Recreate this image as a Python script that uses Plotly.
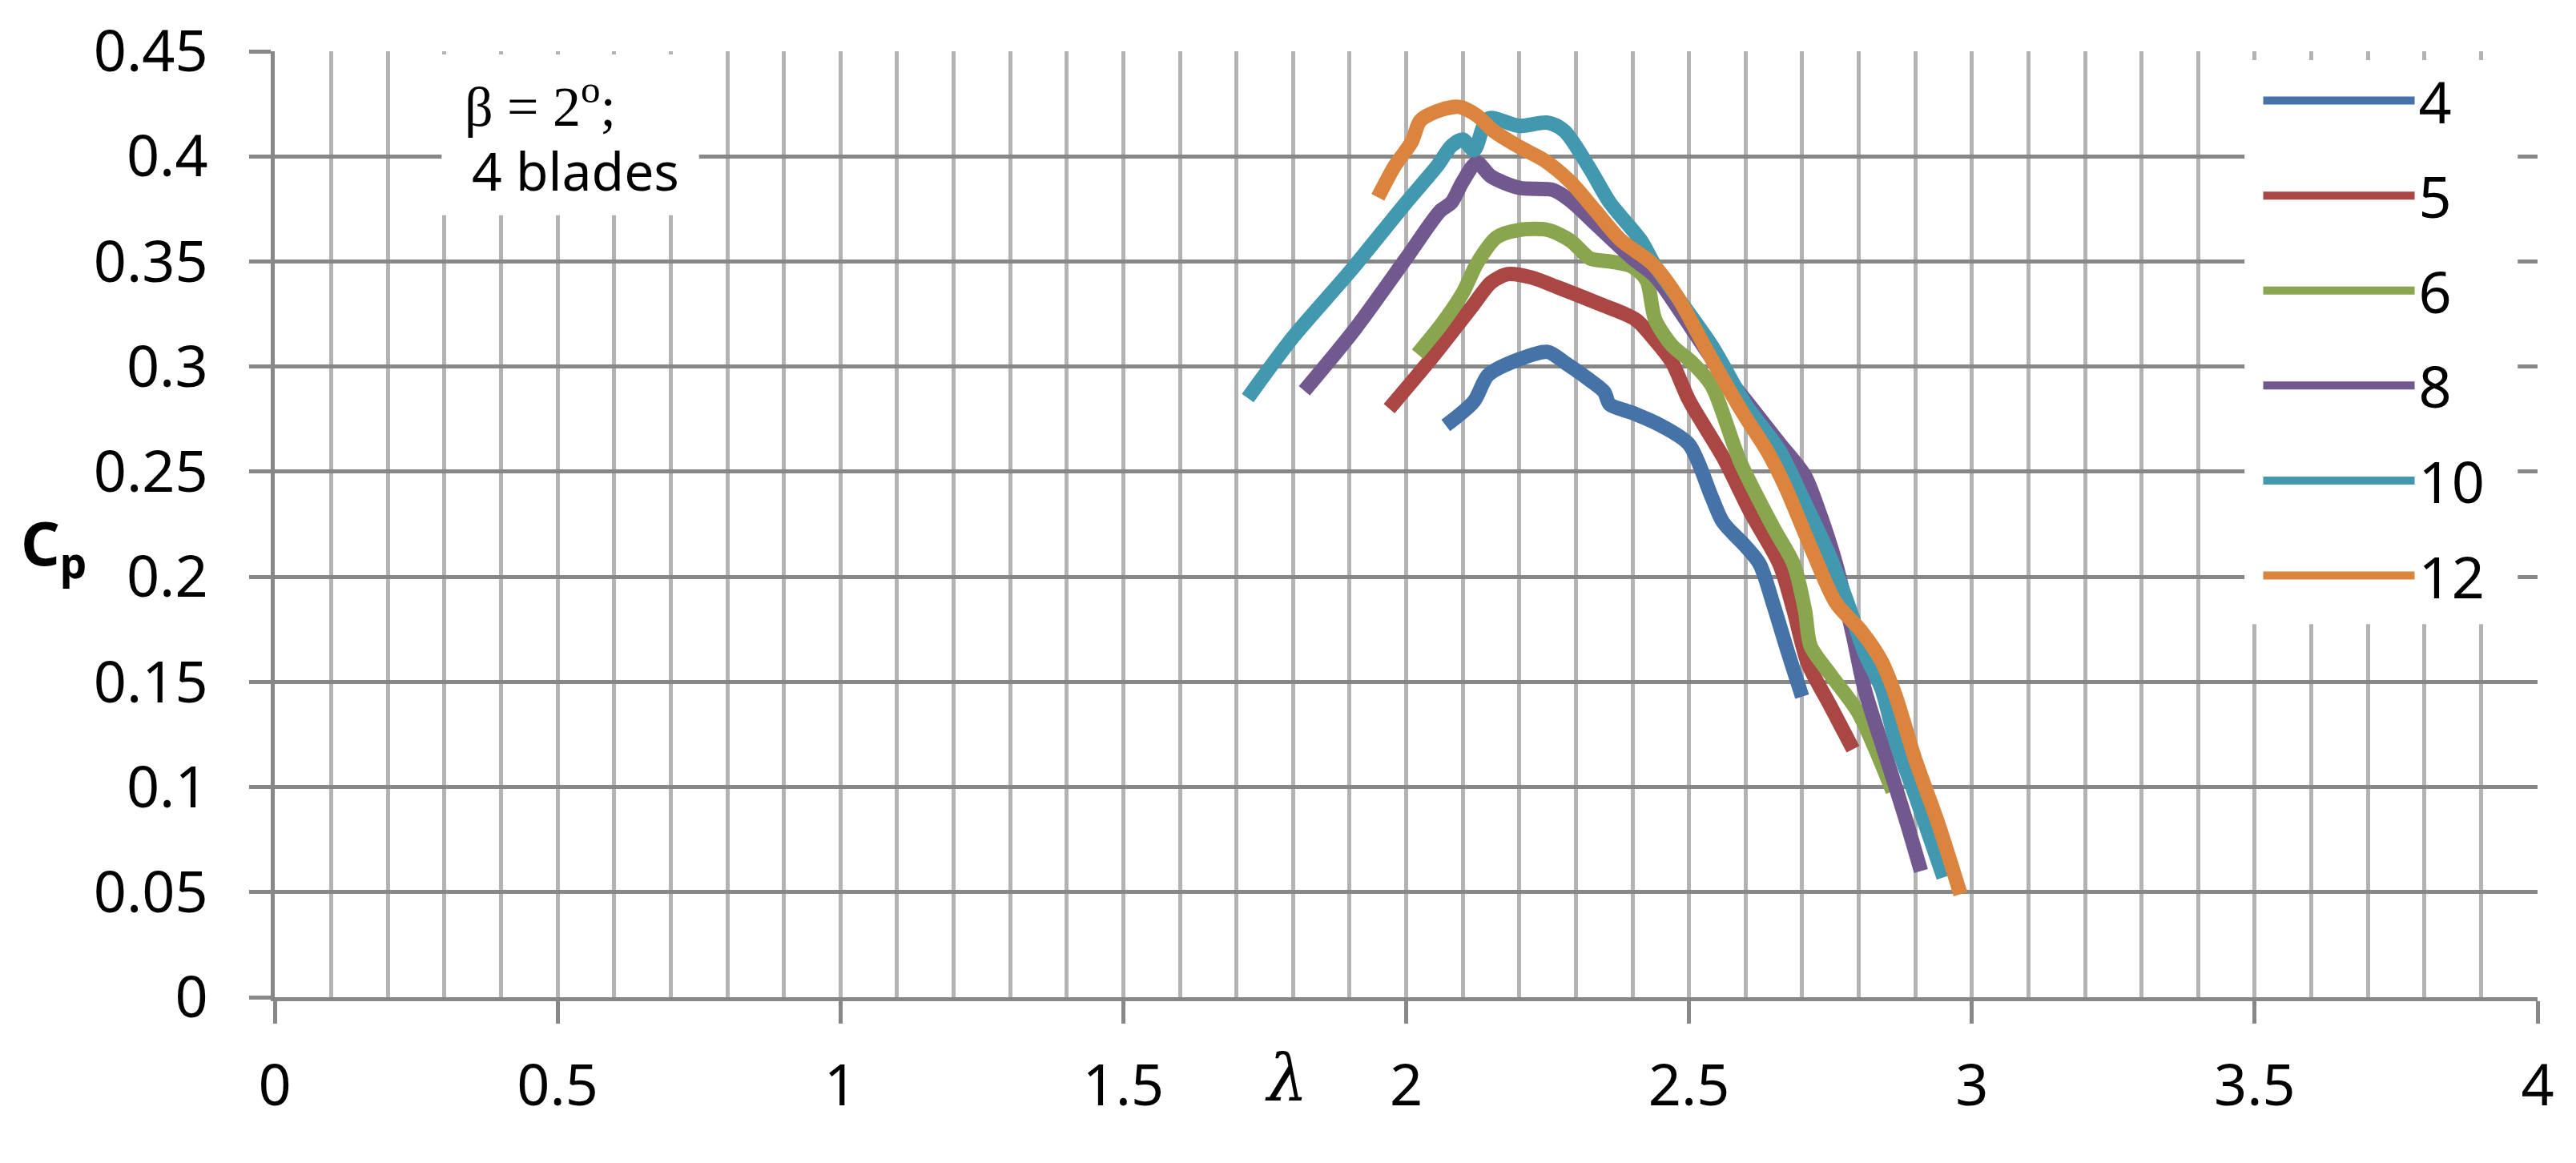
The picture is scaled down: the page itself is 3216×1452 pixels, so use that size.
import plotly.graph_objects as go

# Cp vs tip speed ratio, one curve per wind speed (legend names)
names = ["4", "5", "6", "8", "10", "12"]
colors = ["#4572A7", "#AA4643", "#89A54E", "#71588F", "#4198AF", "#DB843D"]

lam_4 = [2.07, 2.12, 2.145, 2.2, 2.25, 2.28, 2.325, 2.35, 2.36, 2.40, 2.45, 2.50, 2.54, 2.56, 2.60, 2.625, 2.65, 2.675, 2.70]
cp_4 = [0.272, 0.2835, 0.296, 0.3035, 0.307, 0.302, 0.2935, 0.288, 0.282, 0.278, 0.272, 0.263, 0.238, 0.226, 0.2145, 0.206, 0.186, 0.164, 0.143]

lam_5 = [1.97, 2.045, 2.115, 2.15, 2.18, 2.22, 2.27, 2.34, 2.405, 2.44, 2.47, 2.50, 2.56, 2.61, 2.66, 2.685, 2.71, 2.75, 2.79]
cp_5 = [0.28, 0.304, 0.328, 0.340, 0.344, 0.3425, 0.3375, 0.330, 0.3225, 0.3125, 0.302, 0.284, 0.257, 0.23, 0.206, 0.184, 0.159, 0.1385, 0.118]

lam_6 = [2.02, 2.065, 2.10, 2.125, 2.16, 2.20, 2.25, 2.29, 2.325, 2.36, 2.40, 2.425, 2.44, 2.47, 2.505, 2.54, 2.59, 2.65, 2.685, 2.705, 2.715, 2.75, 2.80, 2.86]
cp_6 = [0.306, 0.321, 0.335, 0.349, 0.3615, 0.365, 0.365, 0.36, 0.3515, 0.35, 0.3475, 0.341, 0.3225, 0.31, 0.302, 0.291, 0.255, 0.223, 0.206, 0.184, 0.167, 0.1535, 0.135, 0.098]

lam_8 = [1.82, 1.91, 2.0, 2.06, 2.08, 2.10, 2.125, 2.15, 2.20, 2.26, 2.29, 2.34, 2.40, 2.44, 2.49, 2.54, 2.60, 2.66, 2.705, 2.73, 2.76, 2.79, 2.81, 2.85, 2.885, 2.91]
cp_8 = [0.2885, 0.318, 0.3515, 0.374, 0.378, 0.388, 0.397, 0.3905, 0.385, 0.384, 0.379, 0.3665, 0.3515, 0.343, 0.324, 0.304, 0.284, 0.2635, 0.248, 0.231, 0.206, 0.172, 0.147, 0.113, 0.083, 0.06]

lam_10 = [1.72, 1.80, 1.90, 2.0, 2.055, 2.08, 2.10, 2.12, 2.145, 2.20, 2.25, 2.28, 2.325, 2.36, 2.415, 2.44, 2.54, 2.60, 2.66, 2.70, 2.75, 2.785, 2.81, 2.84, 2.865, 2.90, 2.95]
cp_10 = [0.285, 0.314, 0.345, 0.378, 0.3955, 0.405, 0.408, 0.403, 0.418, 0.4145, 0.416, 0.412, 0.394, 0.378, 0.36, 0.348, 0.31, 0.282, 0.26, 0.238, 0.209, 0.184, 0.164, 0.147, 0.122, 0.096, 0.057]

lam_12 = [1.95, 1.98, 2.01, 2.025, 2.06, 2.095, 2.125, 2.155, 2.20, 2.245, 2.29, 2.335, 2.38, 2.435, 2.48, 2.535, 2.595, 2.64, 2.67, 2.72, 2.76, 2.805, 2.84, 2.865, 2.90, 2.94, 2.98]
cp_12 = [0.3805, 0.3955, 0.407, 0.417, 0.422, 0.4235, 0.4195, 0.412, 0.4045, 0.398, 0.388, 0.374, 0.36, 0.349, 0.333, 0.306, 0.278, 0.259, 0.243, 0.211, 0.1875, 0.174, 0.16, 0.1435, 0.113, 0.083, 0.049]

xs = [lam_4, lam_5, lam_6, lam_8, lam_10, lam_12]
ys = [cp_4, cp_5, cp_6, cp_8, cp_10, cp_12]

font = "Noto Sans, Open Sans, sans-serif"
dark = "#878787"
light = "#B3B3B3"

fig = go.Figure()
for name, c, x, y in zip(names, colors, xs, ys):
    fig.add_trace(go.Scatter(
        x=x, y=y, name=name, mode="lines", legendgroup=name,
        line=dict(color=c, width=18, shape="spline", smoothing=0.8),
    ))

# white boxes behind the note and the legend
fig.add_shape(type="rect", xref="x", yref="y", x0=0.295, x1=0.75, y0=0.372, y1=0.4485,
              fillcolor="white", line_width=0, layer="above")
fig.add_shape(type="rect", xref="x", yref="y", x0=3.482, x1=3.965, y0=0.1775, y1=0.4458,
              fillcolor="white", line_width=0, layer="above")

fig.add_annotation(x=0.47, y=0.4257, xref="x", yref="y", showarrow=False,
                   text="β = 2<sup>o</sup>;", font=dict(family="Liberation Serif, serif", size=70, color="black"))
fig.add_annotation(x=0.532, y=0.3937, xref="x", yref="y", showarrow=False,
                   text="4 blades", font=dict(family=font, size=66, color="black"))
# axis titles
fig.add_annotation(x=-0.113, y=0.477, xref="paper", yref="paper", showarrow=False,
                   text="<b>C<sub>p</sub></b>", font=dict(family=font, size=76, color="black"))
fig.add_annotation(x=0.447, y=-0.126, xref="paper", yref="paper", showarrow=False,
                   text="<i>λ</i>", font=dict(family="DejaVu Serif, serif", size=80, color="black"))

fig.update_layout(
    width=3216, height=1452,
    margin=dict(l=343, r=48, t=61, b=207),
    plot_bgcolor="white", paper_bgcolor="white",
    font=dict(family=font, size=72, color="black"),
    legend=dict(
        x=0.877, y=0.993, xanchor="left", yanchor="top",
        bgcolor="rgba(0,0,0,0)", itemwidth=189, tracegroupgap=22,
        traceorder="grouped", font=dict(size=72),
    ),
    showlegend=True,
)
fig.update_xaxes(
    range=[0, 4], dtick=0.5, tick0=0,
    showgrid=True, gridcolor=light, gridwidth=5,
    minor=dict(dtick=0.1, showgrid=True, gridcolor=light, gridwidth=5),
    ticks="outside", ticklen=28, tickwidth=5, tickcolor=dark,
    showline=True, linecolor=dark, linewidth=5, zeroline=False,
    ticklabelstandoff=16,
)
fig.update_yaxes(
    range=[0, 0.45], dtick=0.05, tick0=0,
    showgrid=True, gridcolor=dark, gridwidth=5,
    ticks="outside", ticklen=27, tickwidth=5, tickcolor=dark,
    showline=True, linecolor=dark, linewidth=5, zeroline=False,
    ticklabelstandoff=37,
)

fig.write_html("out.html", config={"displayModeBar": False},
               post_script="document.body.style.margin='0';")
